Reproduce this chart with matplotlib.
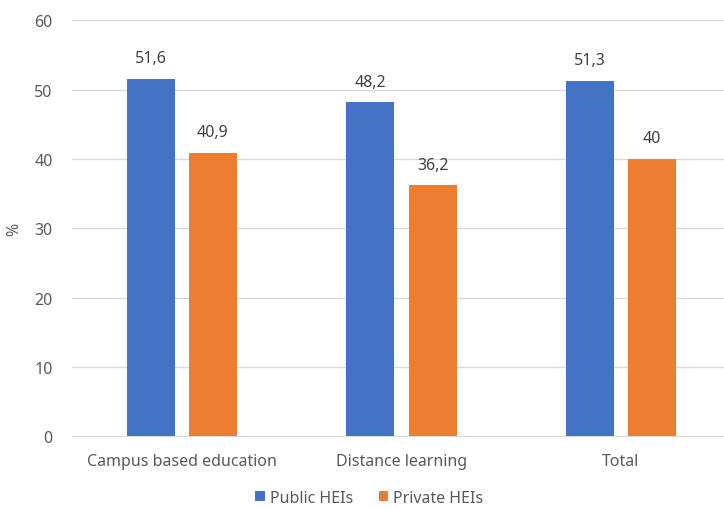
import numpy as np
import matplotlib.pyplot as plt

categories = ['Campus based education', 'Distance learning', 'Total']
public_hei = [51.6, 48.2, 51.3]
private_hei = [40.9, 36.2, 40.0]
series_names = ['Public HEIs', 'Private HEIs']
yticks = [0, 10, 20, 30, 40, 50, 60]

blue = '#4472C4'
orange = '#ED7D31'
txt = '#595959'
fs = 11.5

plt.rcParams['font.family'] = ['Noto Sans', 'DejaVu Sans']

fig = plt.figure(figsize=(7.24, 5.10), dpi=100)
ax = fig.add_axes([0.0994, 0.143, 0.910, 0.815])

x = np.arange(len(categories))
wide = 0.219
off = 0.142

b1 = ax.bar(x - off, public_hei, wide, color=blue, label=series_names[0], zorder=3)
b2 = ax.bar(x + off, private_hei, wide, color=orange, label=series_names[1], zorder=3)

def fmt(v):
    s = ('%.1f' % v).rstrip('0').rstrip('.')
    return s.replace('.', ',')

for bars, vals in ((b1, public_hei), (b2, private_hei)):
    for rect, v in zip(bars, vals):
        ax.annotate(fmt(v), (rect.get_x() + rect.get_width() / 2, v),
                    xytext=(0, 9), textcoords='offset points',
                    ha='center', va='bottom', fontsize=fs, color='#404040')

ax.set_xlim(-0.5, len(categories) - 0.5)
ax.set_ylim(0, 60)
ax.set_yticks(yticks)
ax.set_xticks(x)
ax.set_xticklabels(categories)
ax.grid(axis='y', color='#D9D9D9', linewidth=1, zorder=0)
for s in ['top', 'right', 'left']:
    ax.spines[s].set_visible(False)
ax.spines['bottom'].set_color('#D9D9D9')
ax.tick_params(axis='both', length=0, colors=txt, labelsize=fs)
ax.tick_params(axis='y', pad=14)
ax.tick_params(axis='x', pad=12)
ax.set_ylabel('%', color=txt, fontsize=fs)
ax.yaxis.set_label_coords(-0.075, 0.5)

fig.legend(handles=[b1, b2], labels=series_names, loc='center',
           bbox_to_anchor=(0.51, 0.022), ncol=2, frameon=False,
           fontsize=fs, labelcolor=txt, handlelength=0.6, handleheight=0.6,
           columnspacing=1.6, handletextpad=0.3)

fig.savefig('out.png', dpi=100)
